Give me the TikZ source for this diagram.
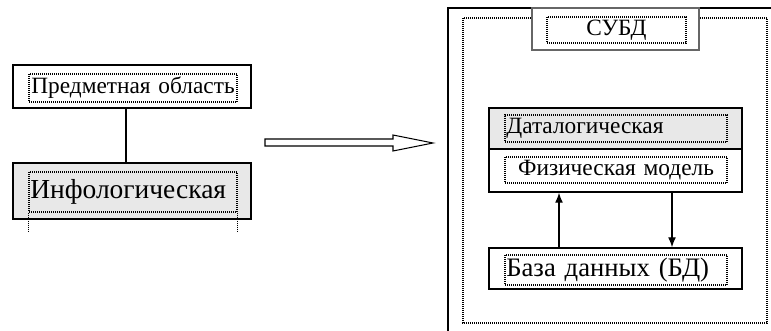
\documentclass[tikz,border=0pt]{standalone}
\usepackage{fontspec}
\setmainfont{Liberation Serif}
\usetikzlibrary{arrows.meta}

\begin{document}
\begin{tikzpicture}[x=0.75pt, y=-0.75pt,
    block/.style={draw, line width=1.1pt, inner sep=0pt, minimum width=#1},
    dotbox/.style={draw, line width=0.8pt, dash pattern=on 0.75pt off 0.75pt, inner sep=1pt, text width=#1},
    greyfill/.style={fill=black!9},
    smalltext/.style={font=\fontsize{17.5}{19}\selectfont},
    bigtext/.style={font=\fontsize{20.6}{22}\selectfont},
    link/.style={line width=1pt, -{Latex[length=7.5pt, width=6pt]}}]
        \useasboundingbox (0,0) rectangle (771,331);

        % left side
        \node[block=178.5pt, minimum height=32.25pt] (subj) at (132,86.5) {};
        \node[dotbox=154pt, minimum height=21pt, smalltext, align=center] (subjtext) at (133,88) {Предметная область};
        \node[block=178.5pt, minimum height=42pt, greyfill] (info) at (132,191) {};
        \node[dotbox=154pt, minimum height=30pt, bigtext, align=left] (infotext) at (133,192) {Инфологическая};
        \draw[dotbox=0pt] (infotext.south west) -- ++(0,20);
        \draw[dotbox=0pt] (infotext.south east) -- ++(0,20);
        \draw[line width=1pt] (subj.south -| 126,0) -- (info.north -| 126,0);

        % block arrow
        \draw[line width=0.8pt, fill=white] (265,139) -- (393,139) -- (393,135) -- (433,143)
            -- (393,151) -- (393,146) -- (265,146) -- cycle;

        % right side
        \draw[line width=1.1pt] (771,8) -- (448,8) -- (448,331);
        \draw[dotbox=0pt] (463,18) rectangle (767,323);
        \node[block=125.25pt, minimum height=31.5pt, draw=black!60, fill=white] (dbms) at (615.5,29) {};
        \node[dotbox=102.25pt, minimum height=19.5pt, smalltext, align=center] (dbmstext) at (616.5,30) {СУБД};

        \node[block=189.75pt, minimum height=30.75pt, greyfill] (datal) at (615.5,128.5) {};
        \node[dotbox=164.5pt, minimum height=20.25pt, smalltext, align=left] (datatext) at (616,128.5) {Даталогическая};
        \node[block=189.75pt, minimum height=32.25pt] (phys) at (615.5,170.5) {};
        \node[dotbox=164.5pt, minimum height=19.5pt, smalltext, align=center] (phystext) at (616,170) {Физическая модель};

        \node[block=189.75pt, minimum height=30.75pt] (db) at (615.5,268.5) {};
        \node[dotbox=164.5pt, minimum height=22.5pt, font=\fontsize{20}{22}\selectfont, align=left] (dbtext) at (616,270) {База данных (БД)};

        \draw[link] (db.north -| 559,0) -- (phys.south -| 559,0);
        \draw[link] (phys.south -| 672,0) -- (db.north -| 672,0);
    \end{tikzpicture}
\end{document}
